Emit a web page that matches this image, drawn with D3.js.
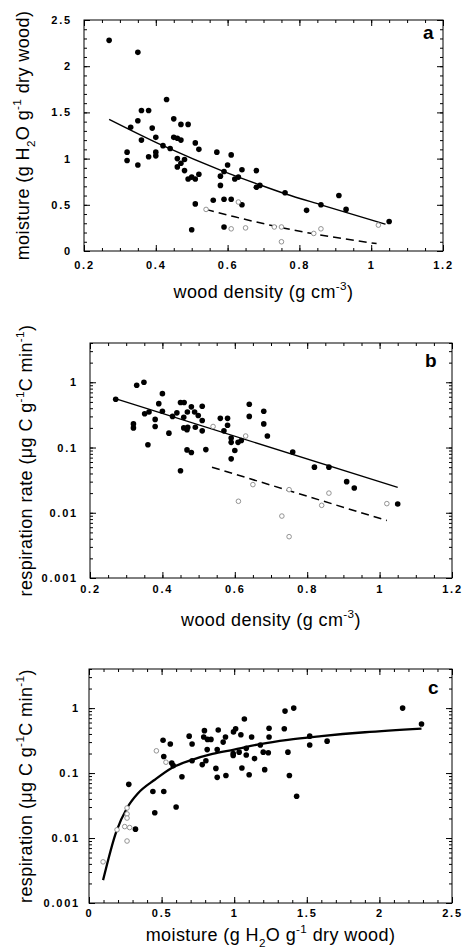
<!DOCTYPE html>
<html><head><meta charset="utf-8">
<script src="https://cdn.jsdelivr.net/npm/d3@7"></script>
<style>
body{margin:0;background:#fff}
svg text{font-family:"Liberation Sans",Arial,Helvetica,sans-serif}
.lab text{font-size:11px;font-weight:bold;letter-spacing:1.8px;fill:#000}
.title{font-size:18px;letter-spacing:0.4px}
.letter{font-size:19px;font-weight:bold}
</style></head><body><div id="chart"></div>
<script>
// (a) moisture vs wood density: [density, moisture]
const aFilled = [[0.27,2.28],[0.35,2.15],[0.43,1.64],[0.36,1.52],[0.38,1.52],[0.35,1.41],[0.33,1.34],[0.39,1.33],
  [0.45,1.43],[0.47,1.37],[0.49,1.37],[0.36,1.20],[0.40,1.23],[0.45,1.23],[0.46,1.22],[0.47,1.20],[0.42,1.14],
  [0.44,1.11],[0.51,1.17],[0.52,1.10],[0.32,1.07],[0.32,0.98],[0.35,0.93],[0.38,1.02],[0.40,1.07],[0.40,1.03],
  [0.46,1.00],[0.48,0.99],[0.47,0.95],[0.46,0.91],[0.48,0.87],[0.49,0.78],[0.50,0.80],[0.51,0.78],[0.52,0.83],
  [0.57,1.07],[0.61,1.04],[0.60,0.93],[0.59,0.86],[0.64,0.88],[0.68,0.87],[0.58,0.81],[0.58,0.71],[0.62,0.78],
  [0.63,0.80],[0.68,0.69],[0.69,0.71],[0.51,0.51],[0.56,0.55],[0.59,0.56],[0.61,0.56],[0.64,0.50],[0.50,0.23],
  [0.59,0.26],[0.76,0.63],[0.86,0.50],[0.82,0.44],[0.91,0.60],[0.93,0.45],[1.05,0.32]];
const aOpen = [[0.54,0.45],[0.63,0.53],[0.61,0.24],[0.65,0.25],[0.73,0.26],[0.75,0.26],[0.75,0.10],[0.84,0.19],[0.86,0.24],[1.02,0.28]];
const aFit = [[0.27,1.425],[0.42,1.14],[0.59,0.86],[0.68,0.73],[0.76,0.62],[0.86,0.50],[1.04,0.29]];
const aFitOpen = [[0.54,0.45],[0.62,0.37],[0.73,0.27],[0.82,0.20],[1.015,0.08]];

// (b) respiration rate vs wood density: [density, rate]
const bFilled = [[0.271,0.55],[0.329,0.90],[0.349,1.0],[0.40,0.67],[0.39,0.47],[0.363,0.35],[0.351,0.33],[0.38,0.27],
  [0.38,0.21],[0.32,0.23],[0.32,0.20],[0.36,0.11],[0.418,0.166],[0.40,0.36],[0.428,0.30],[0.44,0.34],[0.45,0.49],
  [0.46,0.49],[0.459,0.29],[0.459,0.20],[0.468,0.187],[0.47,0.205],[0.469,0.35],[0.48,0.42],[0.489,0.35],[0.499,0.31],
  [0.51,0.43],[0.51,0.26],[0.51,0.18],[0.491,0.205],[0.468,0.092],[0.48,0.084],[0.45,0.044],[0.52,0.093],[0.56,0.28],
  [0.58,0.28],[0.57,0.18],[0.58,0.22],[0.59,0.14],[0.59,0.12],[0.60,0.09],[0.59,0.067],[0.609,0.12],[0.618,0.128],
  [0.64,0.46],[0.64,0.30],[0.68,0.36],[0.68,0.23],[0.69,0.15],[0.76,0.085],[0.82,0.050],[0.86,0.050],[0.909,0.030],
  [0.93,0.024],[1.05,0.0136]];
const bOpen = [[0.54,0.21],[0.61,0.015],[0.63,0.15],[0.65,0.027],[0.73,0.0089],[0.75,0.0226],[0.75,0.0043],[0.84,0.013],[0.86,0.020],[1.02,0.0138]];
const bFit = [[0.27,0.56],[1.05,0.0245]];
const bFitOpen = [[0.537,0.050],[1.02,0.0076]];

// (c) respiration vs moisture: [moisture, respiration]
const cFilled = [[1.35,0.90],[1.41,1.0],[2.16,1.0],[2.29,0.57],[1.07,0.68],[1.01,0.48],[0.995,0.43],[1.046,0.39],
  [1.12,0.36],[1.24,0.49],[1.24,0.36],[1.345,0.48],[0.89,0.46],[0.795,0.45],[0.79,0.36],[0.816,0.33],[0.84,0.33],
  [0.69,0.37],[0.71,0.28],[0.51,0.32],[0.56,0.28],[0.515,0.18],[0.57,0.143],[0.58,0.13],[0.924,0.30],[0.94,0.36],
  [0.814,0.23],[0.883,0.23],[0.993,0.20],[0.993,0.186],[1.034,0.21],[1.083,0.24],[1.083,0.19],[1.18,0.27],[1.2,0.21],
  [1.235,0.205],[1.14,0.167],[0.71,0.155],[0.78,0.135],[0.805,0.155],[0.874,0.118],[0.883,0.086],[0.943,0.092],
  [1.053,0.12],[1.103,0.094],[1.21,0.113],[1.37,0.21],[1.38,0.092],[0.64,0.088],[0.44,0.052],[0.515,0.052],
  [0.274,0.067],[0.60,0.030],[0.453,0.0245],[0.32,0.0137],[1.52,0.37],[1.52,0.27],[1.64,0.31],[1.43,0.044]];
const cOpen = [[0.464,0.22],[0.53,0.147],[0.262,0.029],[0.262,0.0235],[0.262,0.0203],[0.246,0.015],[0.28,0.0145],[0.193,0.0134],[0.262,0.009],[0.097,0.0043]];
const cFit = [[0.097,0.00225],[0.188,0.0126],[0.262,0.029],[0.338,0.049],[0.453,0.079],[0.57,0.12],[0.71,0.16],
  [0.85,0.197],[1.0,0.23],[1.18,0.28],[1.37,0.325],[1.6,0.37],[1.9,0.425],[2.29,0.485]];

const densTicks = [0.2,0.4,0.6,0.8,1,1.2];
const moistTicks = [0,0.5,1,1.5,2,2.5];
const logTicks = [0.001,0.01,0.1,1];

const W = 463, H = 952;
const svg = d3.select("#chart").append("svg")
  .attr("viewBox", `0 0 ${W} ${H}`).attr("width", W).attr("height", H);

// tspans for sub/superscripts; parts = [[text, "sup"|"sub"|undefined], ...]
function rich(sel, parts, fs) {
  let cur = 0;
  parts.forEach(([s, k]) => {
    const off = k === "sup" ? -0.42 * fs : k === "sub" ? 0.32 * fs : 0;
    sel.append("tspan").text(s).attr("dy", off - cur)
      .style("font-size", k ? (0.65 * fs) + "px" : null);
    cur = off;
  });
}

function axes(x, y, o) {
  const [xl, xr] = x.range(), [yb, yt] = y.range();
  const tk = (axis, vals, size, fmt) => axis.tickValues(vals).tickSize(size).tickFormat(fmt || (() => ""));
  const put = (axis, tx, ty) => svg.append("g").attr("transform", `translate(${tx},${ty})`).call(axis)
    .call(g => g.select(".domain").remove());
  put(tk(d3.axisBottom(x), o.xMinor, -3), 0, yb);
  put(tk(d3.axisTop(x), o.xMinor, -3), 0, yt);
  put(tk(d3.axisLeft(y), o.yMinor, -3), xl, 0);
  put(tk(d3.axisRight(y), o.yMinor, -3), xr, 0);
  put(tk(d3.axisBottom(x), o.xTicks, -6, String).tickPadding(o.xPad), 0, yb).attr("class", "lab");
  put(tk(d3.axisTop(x), o.xTicks, -6), 0, yt);
  put(tk(d3.axisLeft(y), o.yTicks, -6, String).tickPadding(o.yPad), xl, 0).attr("class", "lab");
  put(tk(d3.axisRight(y), o.yTicks, -6), xr, 0);
  svg.append("rect").attr("x", xl).attr("y", yt).attr("width", xr - xl).attr("height", yb - yt)
    .attr("fill", "none").attr("stroke", "#000");
  svg.append("text").attr("class", "letter").attr("x", o.letter[1]).attr("y", o.letter[2]).text(o.letter[0]);
  rich(svg.append("text").attr("class", "title").attr("text-anchor", "middle")
    .attr("x", (xl + xr) / 2).attr("y", o.xTitleY), o.xTitle, 18);
  rich(svg.append("text").attr("class", "title").attr("text-anchor", "middle")
    .attr("transform", `translate(${o.yTitleX},${(yb + yt) / 2}) rotate(-90)`), o.yTitle, 18);
}

function marks(x, y, filled, open, fits, width) {
  const line = d3.line().x(d => x(d[0])).y(d => y(d[1])).curve(d3.curveMonotoneX);
  fits.forEach((f, i) => svg.append("path").datum(f).attr("fill", "none").attr("stroke", "#000")
    .attr("stroke-width", i === 0 ? width : 1.5).attr("stroke-dasharray", i === 0 ? null : "8,5").attr("d", line));
  svg.append("g").selectAll("circle").data(filled).join("circle")
    .attr("cx", d => x(d[0])).attr("cy", d => y(d[1])).attr("r", 2.8).attr("fill", "#000");
  svg.append("g").selectAll("circle").data(open).join("circle")
    .attr("cx", d => x(d[0])).attr("cy", d => y(d[1])).attr("r", 2.3)
    .attr("fill", "#fff").attr("stroke", "#888").attr("stroke-width", 0.9);
}

const dTitle = [["wood density (g cm"], ["-3", "sup"], [")"]];
const respUnit = [["g C g"], ["-1", "sup"], ["C min"], ["-1", "sup"], [")"]];

// (a)
const xa = d3.scaleLinear().domain([0.2, 1.2]).range([84, 443]);
const ya = d3.scaleLinear().domain([0, 2.5]).range([251, 20]);
marks(xa, ya, aFilled, aOpen, [aFit, aFitOpen], 1.4);
axes(xa, ya, {xTicks: densTicks, xMinor: d3.range(0.2, 1.201, 0.05), yTicks: moistTicks, yMinor: d3.range(0, 2.501, 0.1),
  xPad: 10, yPad: 12, letter: ["a", 423, 39], xTitle: dTitle, xTitleY: 298, yTitleX: 29,
  yTitle: [["moisture (g H"], ["2", "sub"], ["O g"], ["-1", "sup"], [" dry wood)"]]});

// (b)
const xb = d3.scaleLinear().domain([0.2, 1.2]).range([90, 452]);
const yb = d3.scaleLog().domain([0.001, 4]).range([578, 343]);
marks(xb, yb, bFilled, bOpen, [bFit, bFitOpen], 1.4);
axes(xb, yb, {xTicks: densTicks, xMinor: d3.range(0.2, 1.201, 0.05), yTicks: logTicks, yMinor: yb.ticks(),
  xPad: 7, yPad: 12, letter: ["b", 425, 367], xTitle: dTitle, xTitleY: 626, yTitleX: 32,
  yTitle: [["respiration rate (\u03bc"]].concat(respUnit)});

// (c)
const xc = d3.scaleLinear().domain([0, 2.5]).range([89, 452]);
const yc = d3.scaleLog().domain([0.001, 4]).range([903, 669]);
marks(xc, yc, cFilled, cOpen, [cFit], 2.3);
axes(xc, yc, {xTicks: moistTicks, xMinor: d3.range(0, 2.501, 0.1), yTicks: logTicks, yMinor: yc.ticks(),
  xPad: 6, yPad: 9, letter: ["c", 428, 694], xTitleY: 941, yTitleX: 32,
  xTitle: [["moisture (g H"], ["2", "sub"], ["O g"], ["-1", "sup"], [" dry wood)"]],
  yTitle: [["respiration (\u03bc"]].concat(respUnit)});
</script></body></html>
